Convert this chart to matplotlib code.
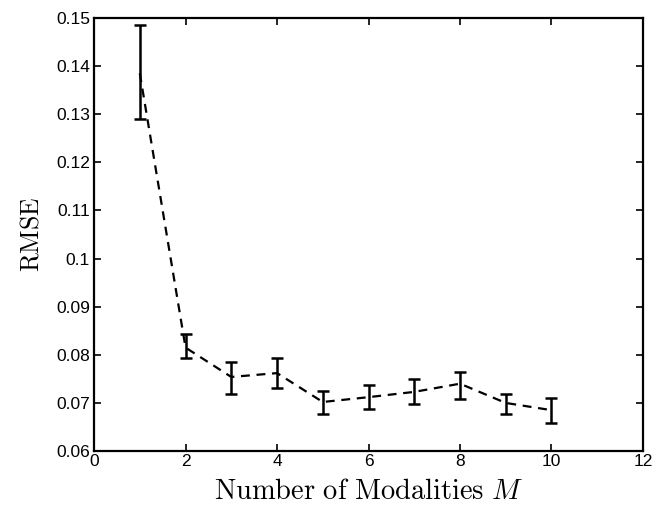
import matplotlib
matplotlib.use("Agg")
import matplotlib.pyplot as plt

M = [1, 2, 3, 4, 5, 6, 7, 8, 9, 10]
rmse = [0.1385, 0.0815, 0.0754, 0.0762, 0.0702, 0.0712, 0.0723, 0.0740, 0.0700, 0.0685]
err_low = [0.1290, 0.0794, 0.0719, 0.0731, 0.0677, 0.0688, 0.0698, 0.0708, 0.0677, 0.0658]
err_high = [0.1486, 0.0844, 0.0785, 0.0794, 0.0725, 0.0737, 0.0750, 0.0765, 0.0719, 0.0710]

xticks = [0, 2, 4, 6, 8, 10, 12]
yticks = [0.06, 0.07, 0.08, 0.09, 0.1, 0.11, 0.12, 0.13, 0.14, 0.15]
ytick_labels = ["0.06", "0.07", "0.08", "0.09", "0.1", "0.11", "0.12", "0.13", "0.14", "0.15"]

plt.rcParams['mathtext.fontset'] = 'cm'
plt.rcParams['font.family'] = ['Liberation Sans', 'DejaVu Sans']

fig = plt.figure(figsize=(6.67, 5.12), dpi=100)
ax = fig.add_axes([0.141, 0.119, 0.823, 0.846])

lo = [r - l for r, l in zip(rmse, err_low)]
hi = [h - r for r, h in zip(rmse, err_high)]
ax.errorbar(M, rmse, yerr=[lo, hi], color='black', linestyle='--', linewidth=1.6,
            elinewidth=1.8, capsize=4, capthick=1.8, dashes=(4, 3))

ax.set_xlim(0, 12)
ax.set_ylim(0.06, 0.15)
ax.set_xticks(xticks)
ax.set_yticks(yticks)
ax.set_yticklabels(ytick_labels)
ax.tick_params(direction='in', top=True, right=True, length=5, width=1.2, labelsize=12.5)
ax.tick_params(axis='x', pad=2)
ax.tick_params(axis='y', pad=3)
for s in ax.spines.values():
    s.set_linewidth(1.6)

ax.set_xlabel(r'$\mathrm{Number\ of\ Modalities}\ M$', fontsize=20.5, labelpad=7)
ax.set_ylabel(r'$\mathrm{RMSE}$', fontsize=18.5, labelpad=9)

fig.savefig('out.png', dpi=100)
